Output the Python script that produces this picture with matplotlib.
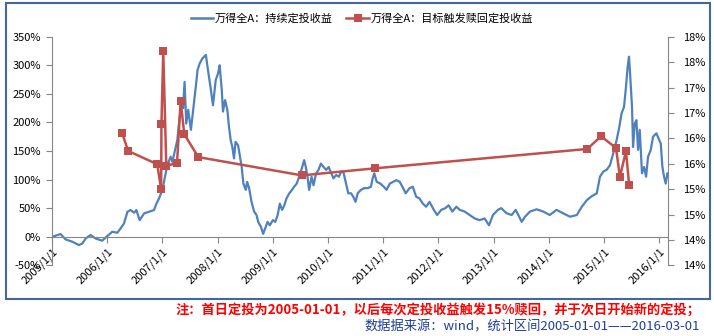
import matplotlib
matplotlib.use("Agg")
import matplotlib.pyplot as plt
from matplotlib.patches import Rectangle
from matplotlib.lines import Line2D
import pandas as pd

plt.rcParams["font.family"] = ["Noto Sans CJK SC", "DejaVu Sans"]

# 万得全A 持续定投累计收益（%）
blue_dates = [
    "2005-01-04", "2005-02-26", "2005-04-01", "2005-05-15", "2005-06-28", "2005-07-21",
    "2005-08-12", "2005-09-13", "2005-10-16", "2005-11-29", "2006-01-01", "2006-02-04",
    "2006-03-09", "2006-03-31", "2006-04-22", "2006-05-15", "2006-06-05", "2006-06-28",
    "2006-07-13", "2006-08-04", "2006-09-03", "2006-10-05", "2006-11-07", "2006-11-23",
    "2006-12-10", "2007-01-01", "2007-01-23", "2007-02-06", "2007-02-25", "2007-03-08",
    "2007-03-26", "2007-04-10", "2007-04-21", "2007-05-01", "2007-05-12", "2007-05-18",
    "2007-05-28", "2007-06-08", "2007-06-21", "2007-07-09", "2007-07-24", "2007-08-10",
    "2007-08-22", "2007-09-05", "2007-09-23", "2007-10-16", "2007-10-27", "2007-11-18",
    "2007-12-02", "2007-12-20", "2008-01-05", "2008-01-15", "2008-01-29", "2008-02-06",
    "2008-02-20", "2008-03-06", "2008-03-17", "2008-03-28", "2008-04-08", "2008-04-19",
    "2008-04-29", "2008-05-16", "2008-05-29", "2008-06-09", "2008-06-20", "2008-07-06",
    "2008-07-15", "2008-07-28", "2008-08-13", "2008-08-30", "2008-09-15", "2008-09-26",
    "2008-10-14", "2008-10-29", "2008-11-11", "2008-11-27", "2008-12-12", "2009-01-01",
    "2009-01-17", "2009-02-02", "2009-02-16", "2009-03-03", "2009-03-18", "2009-04-01",
    "2009-04-20", "2009-05-08", "2009-05-22", "2009-06-08", "2009-06-24", "2009-07-12",
    "2009-07-27", "2009-08-07", "2009-08-18", "2009-08-29", "2009-09-14", "2009-09-27",
    "2009-10-14", "2009-10-30", "2009-11-15", "2009-12-02", "2009-12-20", "2010-01-05",
    "2010-01-23", "2010-02-06", "2010-02-24", "2010-03-14", "2010-03-29", "2010-04-12",
    "2010-04-30", "2010-05-15", "2010-06-02", "2010-06-17", "2010-07-02", "2010-07-16",
    "2010-08-07", "2010-08-29", "2010-09-20", "2010-10-12", "2010-10-23", "2010-11-03",
    "2010-11-19", "2010-12-13", "2011-01-05", "2011-01-23", "2011-02-14", "2011-03-07",
    "2011-03-29", "2011-04-20", "2011-05-08", "2011-05-30", "2011-06-24", "2011-07-16",
    "2011-08-07", "2011-08-29", "2011-09-20", "2011-10-12", "2011-11-03", "2011-12-02",
    "2011-12-24", "2012-01-20", "2012-02-16", "2012-03-09", "2012-04-02", "2012-04-29",
    "2012-05-21", "2012-06-23", "2012-07-26", "2012-08-28", "2012-09-30", "2012-11-02",
    "2012-12-01", "2012-12-27", "2013-01-29", "2013-02-20", "2013-03-27", "2013-04-30",
    "2013-05-26", "2013-06-13", "2013-07-05", "2013-07-27", "2013-08-29", "2013-10-12",
    "2013-11-25", "2014-01-07", "2014-02-20", "2014-04-05", "2014-05-21", "2014-07-05",
    "2014-08-07", "2014-09-09", "2014-10-12", "2014-11-14", "2014-12-05", "2014-12-27",
    "2015-01-18", "2015-02-09", "2015-03-03", "2015-03-25", "2015-04-12", "2015-04-27",
    "2015-05-13", "2015-05-26", "2015-06-06", "2015-06-15", "2015-06-22", "2015-07-05",
    "2015-07-12", "2015-07-23", "2015-08-03", "2015-08-14", "2015-08-25", "2015-09-09",
    "2015-09-23", "2015-10-06", "2015-10-19", "2015-11-06", "2015-11-21", "2015-12-13",
    "2016-01-01", "2016-01-11", "2016-01-22", "2016-02-02", "2016-02-13", "2016-02-24",
    "2016-03-01",
]
blue_vals = [
    0, 4.7, -4.7, -8.7, -14.6, -11.7,
    -3, 3, -3, -7, 1, 8.7,
    7, 14.6, 23, 43.7, 46.7, 42,
    46.7, 29, 41, 43.7, 46.7, 58,
    67, 81.7, 111, 128, 140, 131,
    152, 169, 198, 219, 236, 225,
    271, 198, 222, 187, 222, 262,
    292, 303, 312, 318, 297, 257,
    230, 274, 286, 300, 257, 219,
    239, 222, 192, 169, 157, 137,
    166, 160, 140, 122, 93, 82,
    96, 85, 61, 44, 38, 26,
    17.5, 5, 14.6, 26, 20, 29,
    26, 38, 58, 47, 55, 67,
    76, 82, 87.5, 93, 105, 120,
    134, 122, 105, 82, 105, 90,
    111, 117, 128, 122, 117, 122,
    111, 102, 108, 105, 114, 114,
    93, 76, 76, 70, 61, 76,
    82, 85, 85, 87.5, 102, 111,
    96, 93, 87.5, 82, 93, 96,
    99, 96, 87.5, 76, 85, 87.5,
    70, 67, 58, 52.5, 61, 47,
    38, 47, 50, 55, 44, 52.5,
    47, 44, 38, 32, 29, 32,
    20, 38, 47, 50, 41, 38,
    47, 38, 26, 35, 44, 48,
    44, 38, 47, 41, 35, 38,
    52.5, 64, 71, 76, 105, 114,
    117, 125, 146, 169, 192, 216,
    227, 262, 297, 315, 286, 227,
    157, 198, 204, 152, 187, 111,
    122, 105, 140, 152, 175, 181,
    169, 163, 122, 105, 93, 111,
    105,
]

# 万得全A 目标触发赎回定投收益（%）
red_dates = [
    "2006-04-10", "2006-05-20", "2006-11-28", "2006-12-24", "2006-12-26", "2007-01-07",
    "2007-01-27", "2007-04-08", "2007-05-02", "2007-05-26", "2007-08-27", "2009-07-12",
    "2010-11-11", "2014-09-12", "2014-12-12", "2015-03-21", "2015-04-16", "2015-05-26",
    "2015-06-16",
]
red_vals = [
    16.10, 15.75, 15.49, 15.00, 16.28, 17.71,
    15.46, 15.51, 16.74, 16.08, 15.63, 15.27,
    15.41, 15.79, 16.04, 15.81, 15.24, 15.75,
    15.08,
]

left_ticks = list(range(-50, 351, 50))
right_ticks = [13.5, 14.0, 14.5, 15.0, 15.5, 16.0, 16.5, 17.0, 17.5, 18.0]
years = list(range(2005, 2017))

BLUE = "#4F81BD"
RED = "#C0504D"
GRAY = "#868686"

fig = plt.figure(figsize=(7.14, 3.36), dpi=100)
ax = fig.add_axes([52 / 714, 1 - 265.3 / 336, (668.3 - 52) / 714, (265.3 - 36.7) / 336])
ax2 = ax.twinx()

# 坐标轴线：横轴放在 0% 处
for s in ["top", "right"]:
    ax.spines[s].set_visible(False)
ax.spines["bottom"].set_position(("data", 0))
ax.spines["bottom"].set_color(GRAY)
ax.spines["left"].set_color(GRAY)
for s in ["top", "left", "bottom"]:
    ax2.spines[s].set_visible(False)
ax2.spines["right"].set_color(GRAY)

ax.plot(pd.to_datetime(blue_dates), blue_vals, color=BLUE, lw=1.6, solid_joinstyle="round")
ax2.plot(pd.to_datetime(red_dates), red_vals, color=RED, lw=1.8,
         marker="s", markersize=6, markeredgewidth=0)

ax.set_xlim(pd.Timestamp("2005-01-01"), pd.Timestamp("2016-03-01"))
ax.set_ylim(-50, 350)
ax2.set_ylim(13.5, 18)

# 左轴
ax.set_yticks(left_ticks)
ax.set_yticklabels([f"{v}%" for v in left_ticks])
# 右轴（按四舍五入显示整数百分比）
ax2.set_yticks(right_ticks)
ax2.set_yticklabels([f"{int(v + 0.5)}%" for v in right_ticks])

ax.set_xticks([pd.Timestamp(f"{y}-01-01") for y in years])
ax.set_xticklabels([f"{y}/1/1" for y in years])

ax.tick_params(axis="y", direction="out", length=4, color=GRAY, labelsize=8, pad=4)
ax.tick_params(axis="x", direction="out", length=4, color=GRAY, labelsize=8, pad=3)
ax2.tick_params(axis="y", direction="out", length=4, color=GRAY, labelsize=8, pad=7)
for lab in ax.get_xticklabels():
    lab.set_rotation(45)
    lab.set_ha("right")
    lab.set_va("top")
    lab.set_rotation_mode("anchor")

handles = [
    Line2D([], [], color=BLUE, lw=1.8),
    Line2D([], [], color=RED, lw=1.8, marker="s", markersize=6, markeredgewidth=0),
]
fig.legend(handles, ["万得全A：持续定投收益", "万得全A：目标触发赎回定投收益"],
           loc="center", bbox_to_anchor=(0.507, 0.946), ncol=2, frameon=False,
           fontsize=8, handlelength=2.0, handletextpad=0.2, columnspacing=1.2)

# 图表外框
fig.add_artist(Rectangle((6 / 714, 1 - 299 / 336), (710 - 6) / 714, (299 - 3) / 336,
                         transform=fig.transFigure, fill=False, ec="#41689C", lw=1.5))

fig.text(700 / 714, 1 - 310 / 336,
         "注：首日定投为2005-01-01，以后每次定投收益触发15%赎回，并于次日开始新的定投；",
         color="red", fontsize=9.5, fontweight="bold", style="italic",
         ha="right", va="center")
fig.text(700 / 714, 1 - 327 / 336,
         "数据据来源：wind，统计区间2005-01-01——2016-03-01",
         color="#1F3F99", fontsize=9.5, style="italic", ha="right", va="center")

fig.savefig("out.png", dpi=100)
